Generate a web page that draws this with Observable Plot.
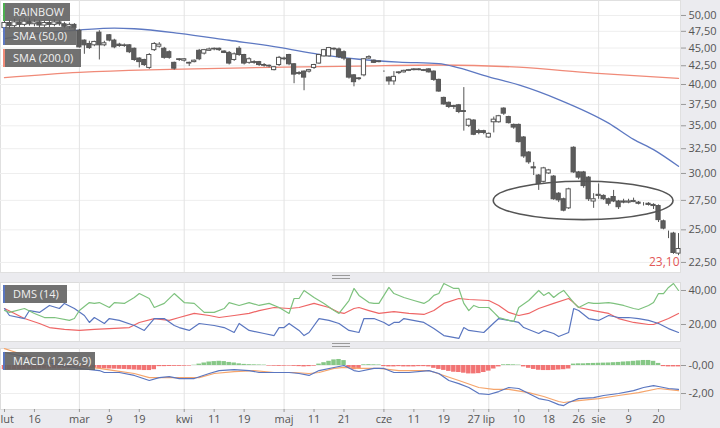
<!DOCTYPE html>
<html><head><meta charset="utf-8">
<script src="https://cdn.jsdelivr.net/npm/d3@7"></script>
<script src="https://cdn.jsdelivr.net/npm/@observablehq/plot@0.6"></script>
<style>
body{margin:0;background:#ebebef;font-family:"Open Sans",sans-serif;}
#wrap{position:relative;width:720px;height:428px;overflow:hidden;background:#ebebef;}
.panel{position:absolute;left:0;}
.tag{position:absolute;left:3px;height:18px;background:rgba(98,98,98,0.9);color:#f0f0f0;font-size:11px;line-height:18px;padding-left:8px;border-left:2px solid;box-sizing:border-box;white-space:nowrap;}
.handle{position:absolute;left:332px;width:18px;height:2px;border-top:1px solid #9a9a9a;border-bottom:1px solid #9a9a9a;}
</style></head><body><div id="wrap"></div>
<script>
// ---- price candles (trading-day index 0 = 8 Feb 2018 ... 135 = 24 Aug 2018)
const open  = [48.0,48.8,48.3,48.9,48.5,49.0,48.6,48.9,48.4,48.8,48.5,48.9,48.6,48.2,48.5,47.6,46.1,45.6,45.4,47.3,45.4,46.9,46.1,45.5,45.3,45.4,44.9,43.5,43.3,42.2,44.7,45.2,44.9,44.4,42.9,43.3,43.2,42.9,43.0,44.6,44.2,44.6,44.8,44.9,44.5,44.3,43.3,44.9,44.0,42.9,43.0,43.0,42.6,42.5,41.9,42.6,43.4,44.0,42.7,41.5,41.7,41.7,42.2,42.8,43.8,43.8,44.9,44.8,44.4,43.4,41.2,40.8,41.2,43.5,43.2,43.0,41.7,40.9,40.4,41.5,41.6,41.8,41.9,42.0,41.9,42.0,41.7,40.6,38.3,37.7,37.3,37.4,36.7,35.0,35.6,34.4,34.4,33.7,35.4,35.4,37.0,36.0,35.1,35.1,33.7,32.1,30.6,29.8,29.2,30.0,29.7,28.1,27.6,26.8,32.6,30.1,30.1,29.6,27.4,27.9,27.9,27.6,27.8,27.4,27.4,27.3,27.35,27.3,27.2,27.2,27.1,27.0,25.7,24.7,24.7,23.15];
const high  = [49.5,49.2,49.4,49.3,49.5,49.6,49.3,49.2,49.1,49.2,49.3,49.2,48.9,48.8,48.7,47.8,46.2,46.0,46.0,47.6,46.0,47.0,46.3,45.7,45.6,45.5,45.0,43.6,43.4,44.2,45.8,45.8,45.1,44.6,43.0,43.5,43.5,43.0,43.3,44.8,44.8,45.0,45.0,45.0,44.6,44.5,44.3,45.2,44.1,43.6,43.2,43.1,42.8,42.6,42.4,43.8,43.7,44.1,42.8,41.7,41.8,42.0,42.7,44.1,44.8,45.1,45.0,45.0,44.6,43.5,41.3,40.9,43.5,43.9,43.3,43.2,41.8,41.0,41.7,41.7,41.9,42.0,42.1,42.1,42.0,42.1,41.8,40.7,38.4,37.8,37.4,37.5,39.6,35.8,35.7,34.6,34.5,34.2,36.0,36.2,37.1,36.1,35.2,35.2,33.8,32.2,31.1,29.9,30.6,30.4,29.8,28.2,27.7,28.6,32.7,30.2,30.2,29.7,28.1,29.0,28.0,27.7,28.4,27.5,27.6,27.6,27.7,27.4,27.3,27.3,27.2,27.1,25.8,24.9,24.8,24.7];
const low   = [47.6,47.8,48.0,48.1,48.2,48.3,48.2,48.0,48.1,48.1,48.2,48.3,47.9,47.8,47.6,45.0,44.1,44.8,45.2,43.3,45.2,45.9,44.9,45.1,45.1,44.2,43.1,42.2,42.4,42.0,44.5,45.0,43.4,43.4,41.9,43.1,43.0,42.4,42.9,43.2,44.0,44.5,44.6,44.5,44.2,42.6,43.1,43.8,42.6,42.7,42.7,42.4,42.3,42.2,41.8,42.4,43.2,42.5,40.1,41.2,39.2,41.5,42.0,42.7,43.7,43.7,44.6,43.5,43.2,40.7,39.7,40.5,41.0,43.4,42.8,42.9,41.6,39.9,39.9,41.3,41.5,41.7,41.8,41.8,41.7,41.5,40.4,39.0,37.4,37.0,36.9,36.4,34.4,34.8,33.9,34.0,34.0,33.6,34.2,35.3,36.2,35.2,34.6,33.1,31.5,30.9,29.8,28.4,29.1,29.9,27.5,27.3,26.5,26.7,30.0,29.4,28.6,27.4,26.8,27.6,27.5,27.0,27.3,26.7,27.2,27.2,27.3,27.1,27.0,27.0,26.7,25.6,25.0,24.3,23.1,23.0];
const close = [48.8,48.3,48.9,48.5,49.0,48.6,48.9,48.4,48.8,48.5,48.9,48.6,48.2,48.5,48.0,45.1,45.4,45.0,45.9,45.4,45.7,46.1,45.1,45.3,45.4,44.4,43.3,43.0,42.6,44.0,45.6,45.5,43.6,43.6,42.1,43.4,43.4,42.8,43.2,43.4,44.7,44.8,44.9,44.7,44.3,42.8,44.1,44.0,42.8,43.4,42.9,42.6,42.5,42.4,42.3,43.6,43.5,42.7,41.3,41.4,40.9,41.9,42.6,44.0,44.7,45.0,44.8,43.7,43.5,40.9,40.3,40.7,43.4,43.7,42.9,43.1,41.7,40.4,41.0,41.6,41.8,41.9,42.0,41.9,41.8,41.6,40.6,39.1,37.5,37.2,37.2,36.6,36.6,35.7,34.0,34.2,34.2,34.1,35.7,36.1,36.4,35.3,34.8,33.2,31.7,31.1,30.5,29.0,30.5,30.3,27.6,27.5,26.6,28.5,30.1,29.6,28.8,27.6,27.6,28.0,27.6,27.2,27.4,26.9,27.3,27.4,27.45,27.2,27.2,27.1,27.0,25.8,25.1,24.7,23.2,23.5];
const lastPrice = 23.10;
const priceTicks = [22.5,25,27.5,30,32.5,35,37.5,40,42.5,45,47.5,50];

// moving averages [index, value]
const sma50 = [[0,46.4],[7,47.2],[15,47.7],[22,48.0],[26,47.9],[35,47.2],[45,46.15],[55,45.1],[63,44.1],[71,43.4],[79,43.0],[87,42.8],[91,42.2],[97,41.0],[103,39.95],[111,38.1],[121,35.3],[126,33.5],[130,32.4],[135,30.7]];
const sma200 = [[0,40.9],[15,41.6],[56,42.3],[71,42.45],[87,42.6],[103,42.3],[118,41.5],[135,40.8]];

// DMS (14) [index, value]
const dmsPlus = [[0,28.2],[1,27.1],[4,29.4],[6,26.5],[8,24.1],[10,24.1],[13,22.4],[14,23.5],[15,28.2],[17,32.9],[18,32.4],[19,32.9],[21,30.0],[22,32.9],[24,32.4],[26,35.9],[27,38.2],[29,35.3],[30,30.0],[32,32.4],[34,38.2],[36,32.9],[38,32.4],[40,27.1],[42,27.1],[44,29.4],[45,32.9],[47,31.2],[49,32.9],[51,31.2],[53,32.4],[55,30.0],[57,26.5],[58,35.3],[59,35.3],[60,40.0],[62,35.9],[64,32.4],[66,28.2],[67,26.5],[69,34.1],[70,41.2],[71,37.1],[73,32.9],[74,32.4],[75,32.4],[77,41.8],[78,38.2],[80,35.9],[82,34.1],[84,32.4],[85,34.1],[86,37.1],[87,38.2],[88,44.1],[90,41.2],[91,41.2],[92,32.4],[93,28.2],[94,31.2],[95,30.0],[97,30.0],[98,27.1],[99,24.1],[101,22.4],[102,21.8],[103,30.0],[105,34.1],[107,40.0],[108,37.1],[109,38.8],[110,35.9],[111,38.2],[112,40.0],[114,32.9],[115,30.0],[117,32.9],[118,32.4],[119,32.4],[121,32.9],[122,32.4],[124,31.2],[126,29.4],[127,28.8],[129,31.2],[130,32.9],[131,38.2],[132,38.2],[133,41.8],[134,44.1],[135,40.0]];
const dmsMinus = [[0,29.4],[1,25.3],[4,23.5],[5,28.2],[7,27.1],[9,31.2],[11,29.4],[12,32.4],[14,29.4],[16,25.3],[17,21.2],[18,24.1],[20,20.6],[21,23.5],[23,22.4],[26,19.4],[28,16.5],[30,23.5],[32,23.5],[34,19.4],[35,18.2],[37,16.5],[39,20.6],[42,19.4],[44,18.2],[46,15.3],[47,20.6],[49,16.5],[52,14.7],[54,13.5],[55,18.2],[56,18.2],[57,20.6],[59,16.5],[60,13.5],[61,15.3],[63,23.5],[65,22.4],[67,20.6],[69,16.5],[71,15.3],[72,23.5],[74,23.5],[76,21.2],[77,19.4],[78,21.2],[79,21.2],[80,23.5],[84,21.2],[86,17.6],[88,13.5],[91,11.8],[92,18.2],[93,16.5],[96,15.3],[98,20.9],[99,23.5],[101,22.4],[103,21.2],[104,18.2],[107,14.7],[108,16.5],[110,14.7],[111,12.9],[113,15.3],[114,29.4],[115,28.2],[117,23.5],[119,22.4],[121,25.3],[123,24.1],[125,24.1],[127,23.5],[129,22.4],[131,20.6],[133,17.6],[135,15.3]];
const dmsAdx = [[0,29.4],[2,26.5],[4,23.5],[7,20.6],[9,18.2],[12,17.1],[15,16.5],[18,17.1],[21,17.6],[25,18.2],[27,21.2],[30,23.5],[33,22.4],[35,24.1],[38,26.5],[41,25.3],[43,24.1],[46,25.3],[49,26.5],[51,28.2],[54,30.0],[57,29.4],[59,30.0],[62,32.4],[65,30.0],[67,27.1],[68,26.5],[70,29.4],[71,30.0],[73,28.2],[75,26.5],[78,27.6],[81,26.5],[84,25.9],[86,28.2],[88,32.4],[91,35.3],[93,34.7],[97,34.1],[99,31.2],[101,27.1],[103,25.3],[105,26.5],[107,29.4],[110,32.4],[113,35.3],[114,32.9],[115,30.0],[118,28.2],[121,26.5],[123,23.5],[126,21.2],[129,20.0],[130,20.0],[131,21.2],[133,23.5],[135,26.5]];
const dmsTicks = [20,40];

// MACD (12,26,9)
const macdLine = [[0,0.93],[4,0.64],[10,0.1],[15,-0.2],[19,-0.36],[20,-0.5],[23,-0.5],[26,-0.71],[29,-1.07],[31,-0.86],[33,-0.79],[35,-0.93],[38,-0.93],[41,-0.57],[43,-0.36],[46,-0.29],[49,-0.36],[51,-0.5],[54,-0.5],[57,-0.5],[59,-0.57],[61,-0.71],[63,-0.36],[66,-0.14],[68,0],[70,-0.36],[71,-0.43],[74,-0.21],[76,-0.21],[78,-0.5],[81,-0.5],[85,-0.36],[87,-0.57],[89,-1.07],[91,-1.29],[93,-1.57],[95,-2.0],[97,-2.07],[99,-1.86],[101,-1.57],[103,-1.64],[105,-2.0],[107,-2.36],[109,-2.5],[111,-2.79],[112,-2.86],[113,-2.64],[115,-2.36],[118,-2.29],[120,-2.14],[123,-2.0],[126,-1.79],[128,-1.57],[130,-1.43],[131,-1.5],[133,-1.64],[135,-1.71]];
const macdSignal = [[0,1.21],[3,0.86],[8,0.4],[14,0.0],[19,-0.21],[22,-0.36],[26,-0.57],[29,-0.86],[31,-0.86],[35,-0.86],[39,-0.86],[42,-0.57],[46,-0.43],[50,-0.36],[54,-0.5],[58,-0.5],[61,-0.57],[63,-0.5],[66,-0.21],[68,-0.14],[71,-0.21],[75,-0.21],[79,-0.36],[85,-0.36],[88,-0.71],[91,-1.07],[95,-1.57],[98,-1.71],[101,-1.71],[105,-1.93],[108,-2.21],[111,-2.57],[112,-2.64],[115,-2.5],[119,-2.36],[123,-2.14],[127,-1.93],[131,-1.64],[135,-1.79]];
const macdHist = [-0.3,-0.3,-0.3,-0.3,-0.28,-0.28,-0.26,-0.26,-0.25,-0.25,-0.24,-0.24,-0.22,-0.22,-0.2,-0.2,-0.18,-0.18,-0.2,-0.22,-0.24,-0.25,-0.26,-0.27,-0.28,-0.3,-0.32,-0.34,-0.36,-0.36,-0.3,-0.08,-0.08,-0.07,-0.06,-0.06,-0.05,-0.04,0.02,0.1,0.18,0.25,0.28,0.3,0.28,0.22,0.18,0.12,0.08,0.06,0.05,0.04,0.03,-0.04,-0.05,-0.06,-0.05,-0.04,-0.06,-0.08,-0.1,-0.08,-0.05,0.1,0.2,0.3,0.4,0.43,0.35,-0.15,-0.3,-0.25,0.05,0.06,0.05,0.04,-0.08,-0.1,-0.1,-0.08,-0.1,-0.1,-0.1,-0.08,-0.08,-0.1,-0.2,-0.28,-0.35,-0.42,-0.48,-0.5,-0.55,-0.6,-0.6,-0.58,-0.5,-0.4,-0.25,-0.1,0.05,0.06,0.05,0.03,-0.1,-0.2,-0.28,-0.34,-0.36,-0.36,-0.35,-0.32,-0.3,-0.25,0.1,0.12,0.12,0.14,0.15,0.16,0.17,0.18,0.2,0.22,0.25,0.27,0.3,0.33,0.36,0.36,0.3,0.15,-0.08,-0.1,-0.1,-0.1];
const macdTicks = [0,-2];
const macdTickLabels = ["-0,00","-2,00"];

// time axis
const monthStarts = [15,36,56,76,97,119];
const tickIdx    = [0,6,15,21,27,36,42,48,56,62,68,76,82,88,94,97,103,109,115,119,125,131];
const tickLabels = ["lut","16","mar","9","19","kwi","11","19","maj","11","21","cze","11","19","27","lip","10","18","26","sie","9","20"];

// annotation ellipse: index range and price range
const ring = {i1: 98, i2: 134, p1: 25.8, p2: 29.2};

// ---------------------------------------------------------------
const xDomain = [-0.8, 135.4];
const fmt = v => v.toFixed(2).replace(".", ",");
const pairs = a => a.map(([i, v]) => ({i, v}));
const candles = open.map((o, i) => ({i, o, h: high[i], l: low[i], c: close[i]}));
const W = 720, MR = 40;
const baseStyle = {background: "transparent", color: "#555", fontFamily: "'Open Sans', sans-serif", fontSize: "11px", overflow: "visible"};
const wrap = document.getElementById("wrap");
function place(el, top) { el.classList.add("panel"); el.style.top = top + "px"; wrap.appendChild(el); }
// right-hand axis: tick marks + labels drawn as text marks
function rightAxis(ticks, label) {
  return [
    Plot.axisY(ticks, {anchor: "right", tickFormat: () => "", tickSize: 5, stroke: "#999", label: null}),
    Plot.text(ticks, {y: d => d, frameAnchor: "right", dx: 8, textAnchor: "start", text: label, fill: "#555"})
  ];
}

const main = Plot.plot({
  width: W, height: 272, marginLeft: 0, marginRight: MR, marginTop: 0, marginBottom: 0,
  style: baseStyle,
  x: {domain: xDomain, axis: null},
  y: {type: "log", domain: [21.78, 52.48], axis: null},
  marks: [
    Plot.frame({fill: "white", stroke: "#e0e0e0"}),
    Plot.ruleY(priceTicks, {stroke: "#eeeeee"}),
    Plot.ruleX(monthStarts, {stroke: "#e3e3e3"}),
    Plot.line(pairs(sma200), {x: "i", y: "v", stroke: "#f08a78", strokeWidth: 1.3, curve: "monotone-x"}),
    Plot.line(pairs(sma50), {x: "i", y: "v", stroke: "#5d78c2", strokeWidth: 1.3, curve: "monotone-x"}),
    Plot.ruleX(candles, {x: "i", y1: "l", y2: "h", stroke: "#555", strokeWidth: 1}),
    Plot.rect(candles, {x1: d => d.i - 0.42, x2: d => d.i + 0.42, y1: "o", y2: "c",
      fill: d => d.c >= d.o ? "white" : "#5c5c5c", stroke: "#555", strokeWidth: 1}),
    ...rightAxis(priceTicks, fmt),
    Plot.text([{i: open.length - 1, v: lastPrice}], {x: "i", y: "v", text: d => fmt(d.v), fill: "#e25757",
      textAnchor: "end", dx: 1, dy: 8, fontSize: 12})
  ]
});
{
  const sx = main.scale("x"), sy = main.scale("y");
  const x1 = sx.apply(ring.i1), x2 = sx.apply(ring.i2), y1 = sy.apply(ring.p1), y2 = sy.apply(ring.p2);
  d3.select(main).append("ellipse")
    .attr("cx", (x1 + x2) / 2).attr("cy", (y1 + y2) / 2)
    .attr("rx", Math.abs(x2 - x1) / 2).attr("ry", Math.abs(y2 - y1) / 2)
    .attr("fill", "none").attr("stroke", "#555").attr("stroke-width", 1.6);
}
place(main, 0);

const dms = Plot.plot({
  width: W, height: 59, marginLeft: 0, marginRight: MR, marginTop: 0, marginBottom: 0,
  style: baseStyle,
  x: {domain: xDomain, axis: null},
  y: {domain: [10, 44.7], axis: null},
  marks: [
    Plot.frame({fill: "white", stroke: "#dcdcdc"}),
    Plot.ruleY(dmsTicks, {stroke: "#eeeeee"}),
    Plot.ruleX(monthStarts, {stroke: "#e3e3e3"}),
    Plot.line(pairs(dmsAdx), {x: "i", y: "v", stroke: "#ee6666", strokeWidth: 1.2}),
    Plot.line(pairs(dmsMinus), {x: "i", y: "v", stroke: "#5a76c0", strokeWidth: 1.2}),
    Plot.line(pairs(dmsPlus), {x: "i", y: "v", stroke: "#7ec27e", strokeWidth: 1.2}),
    ...rightAxis(dmsTicks, fmt)
  ]
});
place(dms, 282);

const hist = macdHist.map((v, i) => ({i, v}));
const labelOf = new Map(tickIdx.map((d, k) => [d, tickLabels[k]]));
const macdLab = new Map(macdTicks.map((d, k) => [d, macdTickLabels[k]]));
const macd = Plot.plot({
  width: W, height: 80, marginLeft: 0, marginRight: MR, marginTop: 0, marginBottom: 19,
  style: baseStyle,
  x: {domain: xDomain, axis: null},
  y: {domain: [-3.14, 1.214], axis: null},
  marks: [
    Plot.frame({fill: "white", stroke: "#dcdcdc"}),
    Plot.ruleY(macdTicks, {stroke: "#eeeeee"}),
    Plot.ruleX(monthStarts, {stroke: "#e3e3e3"}),
    Plot.rect(hist, {x1: d => d.i - 0.45, x2: d => d.i + 0.45, y1: 0, y2: "v",
      fill: d => d.v >= 0 ? "#86c786" : "#f27474"}),
    Plot.line(pairs(macdSignal), {x: "i", y: "v", stroke: "#f5a56c", strokeWidth: 1.2}),
    Plot.line(pairs(macdLine), {x: "i", y: "v", stroke: "#5a76c0", strokeWidth: 1.2}),
    ...rightAxis(macdTicks, d => macdLab.get(d)),
    Plot.axisX(tickIdx, {anchor: "bottom", tickFormat: d => d === tickIdx[0] ? "" : labelOf.get(d),
      tickSize: 3, tickPadding: 3, stroke: "#999", label: null}),
    Plot.text([tickIdx[0]], {x: d => d, frameAnchor: "bottom", lineAnchor: "top", dy: 6, dx: -4,
      textAnchor: "start", text: d => labelOf.get(d), fill: "#555"})
  ]
});
place(macd, 348);

// legend tags and separator handles
const tags = [
  {t: "RAINBOW", top: 3, w: 67, c: "#4caf50"},
  {t: "SMA (50,0)", top: 27, w: 73, c: "#5d78c2"},
  {t: "SMA (200,0)", top: 49, w: 78, c: "#f08a78"},
  {t: "DMS (14)", top: 285, w: 64, c: "#5a76c0"},
  {t: "MACD (12,26,9)", top: 352, w: 92, c: "#5a76c0"}
];
for (const g of tags) {
  const d = document.createElement("div");
  d.className = "tag"; d.textContent = g.t;
  d.style.top = g.top + "px"; d.style.width = g.w + "px"; d.style.borderLeftColor = g.c;
  wrap.appendChild(d);
}
for (const top of [275, 343]) {
  const h = document.createElement("div");
  h.className = "handle"; h.style.top = top + "px";
  wrap.appendChild(h);
}
</script></body></html>
